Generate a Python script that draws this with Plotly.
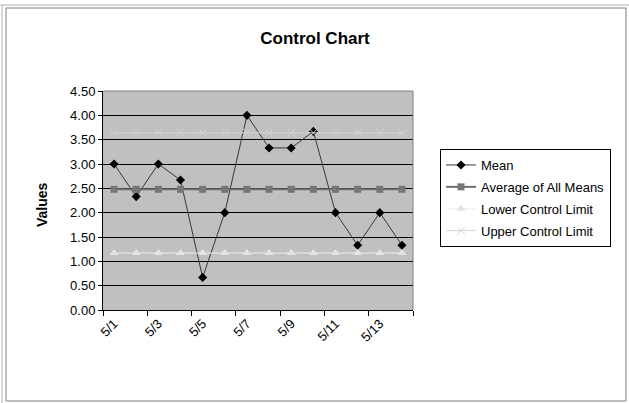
import plotly.graph_objects as go

# daily data
dates = ["5/1", "5/2", "5/3", "5/4", "5/5", "5/6", "5/7",
         "5/8", "5/9", "5/10", "5/11", "5/12", "5/13", "5/14"]
mean = [3.00, 2.33, 3.00, 2.67, 0.67, 2.00, 4.00,
        3.33, 3.33, 3.67, 2.00, 1.33, 2.00, 1.33]
avg_all = [2.48] * len(dates)
lcl = [1.17] * len(dates)
ucl = [3.64] * len(dates)

FONT = "Arial, Liberation Sans, sans-serif"
W, H = 629, 403
L, R, T, B = 103, 413, 91, 310  # plot area in pixels


def px(x):
    return (x - L) / (R - L)


def py(y):
    return (B - y) / (B - T)


xs = list(range(len(dates)))

fig = go.Figure()
fig.add_trace(go.Scatter(
    x=xs, y=mean, name="Mean", mode="lines+markers", legendgroup="a",
    line=dict(color="#383838", width=1),
    marker=dict(symbol="diamond", size=7, color="black"),
))
fig.add_trace(go.Scatter(
    x=xs, y=avg_all, name="Average of All Means", mode="lines+markers", legendgroup="b",
    line=dict(color="#6e6e6e", width=2),
    marker=dict(symbol="square", size=7, color="#767676"),
))
fig.add_trace(go.Scatter(
    x=xs, y=lcl, name="Lower Control Limit", mode="lines+markers", legendgroup="c",
    line=dict(color="#eeeeee", width=1),
    marker=dict(symbol="triangle-up", size=8, color="#e4e4e4"),
))
fig.add_trace(go.Scatter(
    x=xs, y=ucl, name="Upper Control Limit", mode="lines+markers", legendgroup="d",
    line=dict(color="#d4d4d4", width=1),
    marker=dict(symbol="x-thin-open", size=8, line=dict(color="#d0d0d0", width=1)),
))

# chart frame (Excel style)
shapes = [
    dict(type="rect", xref="paper", yref="paper", x0=px(6), x1=px(626), y0=py(401), y1=py(8),
         line=dict(color="#7f7f7f", width=1), layer="below"),
    dict(type="line", xref="paper", yref="paper", x0=px(0), x1=px(629), y0=py(5), y1=py(5),
         line=dict(color="#b0b0b0", width=1)),
    dict(type="line", xref="paper", yref="paper", x0=px(2), x1=px(2), y0=py(403), y1=py(5),
         line=dict(color="#b0b0b0", width=1)),
    # plot area border top/right
    dict(type="line", xref="paper", yref="paper", x0=0, x1=1, y0=1, y1=1,
         line=dict(color="#808080", width=1)),
    dict(type="line", xref="paper", yref="paper", x0=1, x1=1, y0=0, y1=1,
         line=dict(color="#808080", width=1)),
]

fig.update_layout(
    width=W, height=H,
    margin=dict(l=L, r=W - R, t=T, b=H - B),
    paper_bgcolor="white", plot_bgcolor="#c0c0c0",
    font=dict(family=FONT, size=13, color="black"),
    title=dict(text="<b>Control Chart</b>", x=315 / W, xanchor="center",
               y=1 - 38 / H, yanchor="middle", font=dict(size=17)),
    showlegend=True,
    legend=dict(x=px(440), y=py(149), xanchor="left", yanchor="top",
                bordercolor="black", borderwidth=1, bgcolor="white",
                font=dict(size=13), tracegroupgap=2, itemwidth=30),
    shapes=shapes,
    annotations=[dict(text="<b>Values</b>", xref="paper", yref="paper",
                      x=px(42), y=py(205), xanchor="center", yanchor="middle",
                      showarrow=False, textangle=-90, font=dict(size=14))],
)
fig.update_xaxes(
    range=[-0.5, len(dates) - 0.5], tickvals=xs[::2], ticktext=dates[::2],
    tickangle=-45, ticks="", showgrid=False, zeroline=False,
    showline=True, linecolor="black", linewidth=1,
    tickfont=dict(size=13),
    minor=dict(tickvals=[v - 0.5 for v in range(0, len(dates) + 1, 2)],
               ticks="outside", ticklen=5, tickcolor="black", showgrid=False),
)
fig.update_yaxes(
    range=[0, 4.5], dtick=0.5, tickformat=".2f",
    showgrid=True, gridcolor="black", gridwidth=1.3,
    zeroline=False, showline=True, linecolor="black", linewidth=1,
    ticks="outside", ticklen=4, tickcolor="black", tickfont=dict(size=13),
)

fig.write_html("out.html", config={"displayModeBar": False},
               post_script="document.body.style.margin='0';")
